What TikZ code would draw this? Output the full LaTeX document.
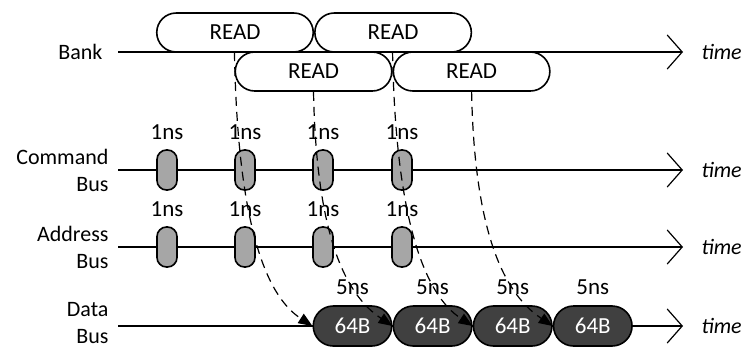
\documentclass[tikz,border=0pt]{standalone}
\usepackage{fontspec}
\setmainfont{Carlito}
\usetikzlibrary{arrows.meta,positioning,shapes.misc}
\definecolor{pillgrey}{HTML}{A6A6A6}
\definecolor{darkgrey}{HTML}{404040}

\begin{document}
\begin{tikzpicture}[
x=1pt, y=-1pt,
every node/.style={font=\fontsize{23}{27}\selectfont},
read/.style={
rounded rectangle,
draw,
line width=1.6pt,
fill=white,
minimum width=156.5pt,
minimum height=39pt,
inner sep=0pt
},
cmd/.style={
rectangle,
draw,
line width=1.6pt,
rounded corners=9.5pt,
fill=pillgrey,
minimum width=20pt,
minimum height=40pt,
inner sep=0pt
},
data/.style={
rounded rectangle,
draw,
line width=1.6pt,
fill=darkgrey,
text=white,
minimum width=78.5pt,
minimum height=40pt,
inner sep=0pt
},
axis/.style={
line width=1.2pt,
-{Straight Barb[length=15pt,width=34pt]}
},
depend/.style={
line width=1.2pt,
dash pattern=on 9pt off 6pt,
-{Triangle[length=14pt,width=11pt]}
},
busname/.style={align=right, left=6pt of #1, font=\fontsize{22}{27}\selectfont},
timelabel/.style={right=15pt of #1, font=\fontsize{22}{27}\selectfont\itshape}
]
\path[use as bounding box, fill=white] (0,0) rectangle (747,349);

% Zeitachsen
\coordinate (bank-start) at (118,52);
\coordinate (bank-end) at (683,52);
\coordinate (cmd-start) at (118,170);
\coordinate (cmd-end) at (683,170);
\coordinate (addr-start) at (118,247);
\coordinate (addr-end) at (683,247);
\coordinate (data-start) at (118,326);
\coordinate (data-end) at (683,326);
\draw[axis] (bank-start) -- (bank-end);
\draw[axis] (cmd-start) -- (cmd-end);
\draw[axis] (addr-start) -- (addr-end);
\draw[axis] (data-start) -- (data-end);
\node[busname=bank-start, xshift=-6pt] {Bank};
\node[busname=cmd-start] {Command\\Bus};
\node[busname=addr-start] {Address\\Bus};
\node[busname=data-start, yshift=2.5pt] {Data\\Bus};
\node[timelabel=bank-end] {time};
\node[timelabel=cmd-end] {time};
\node[timelabel=addr-end] {time};
\node[timelabel=data-end] {time};

% Bank
\node[read] (read1) at (235,32.5) {READ};
\node[read, right=0pt of read1] (read3) {READ};
\node[read] (read2) at (313.5,71.5) {READ};
\node[read, right=0pt of read2] (read4) {READ};

% Kommandos und Adressen
\node[cmd] (cmd1) at (167,170) {};
\node[cmd] (cmd2) at (245,170) {};
\node[cmd] (cmd3) at (323,170) {};
\node[cmd] (cmd4) at (402,170) {};
\node[cmd] (addr1) at (167,247) {};
\node[cmd] (addr2) at (245,247) {};
\node[cmd] (addr3) at (323,247) {};
\node[cmd] (addr4) at (402,247) {};
\node[above=6pt of cmd1] {1ns};
\node[above=6pt of cmd2] {1ns};
\node[above=6pt of cmd3] {1ns};
\node[above=6pt of cmd4] {1ns};
\node[above=6pt of addr1] {1ns};
\node[above=6pt of addr2] {1ns};
\node[above=6pt of addr3] {1ns};
\node[above=6pt of addr4] {1ns};

% Daten
\node[data] (data1) at (352.5,326) {64B};
\node[data, right=0pt of data1] (data2) {64B};
\node[data, right=0pt of data2] (data3) {64B};
\node[data, right=0pt of data3] (data4) {64B};
\node[above=7pt of data1] {5ns};
\node[above=7pt of data2] {5ns};
\node[above=7pt of data3] {5ns};
\node[above=7pt of data4] {5ns};

% Abhaengigkeiten
\draw[depend] (read2.west |- bank-start) .. controls +(3,168) and +(-48,-31) .. (data1.west);
\draw[depend] (read2.south) .. controls +(3,150) and +(-45,-30) .. (data2.west);
\draw[depend] (read4.west |- bank-start) .. controls +(3,168) and +(-48,-31) .. (data3.west);
\draw[depend] (read4.south) .. controls +(3,150) and +(-45,-30) .. (data4.west);
\end{tikzpicture}
\end{document}
